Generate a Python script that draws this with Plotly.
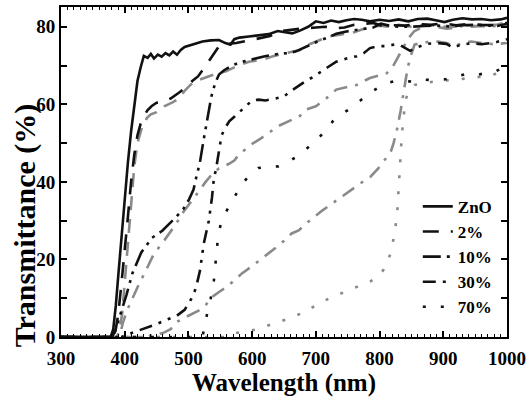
import plotly.graph_objects as go

# ---- data ----
zno_x = [300, 378, 382, 386, 390, 395, 400, 405, 410, 415, 420, 425, 430, 436, 441, 446, 452, 458, 464, 470, 476, 482, 488, 494, 502, 512, 522, 535, 548, 558, 566, 572, 580, 595, 610, 626, 640, 652, 663, 675, 688, 700, 712, 724, 736, 748, 760, 772, 785, 800, 815, 830, 845, 860, 875, 890, 902, 915, 930, 945, 960, 975, 990, 1000]
zno_y = [0, 0, 2, 8, 16, 26, 36, 45, 53, 60, 66, 69.5, 72.5, 72, 73, 71.8, 72.8, 72.3, 73.2, 72.6, 73.6, 72.8, 74, 74.8, 75.2, 75.6, 76.2, 76.5, 76.6, 75.8, 75.4, 76.8, 77.2, 77.5, 77.8, 78.1, 78.9, 78.6, 78.3, 79, 80, 81.4, 81, 81.6, 81.2, 81.7, 82, 81.8, 81.4, 81.8, 81.5, 81.9, 81.4, 82, 82.1, 81.6, 81.2, 81.8, 82.2, 81.9, 82, 81.7, 81.9, 82.3]

p2_x = [300, 382, 386, 390, 395, 400, 405, 410, 415, 420, 425, 430, 436, 442, 450, 460, 472, 485, 497, 506, 515, 523, 531, 540, 548, 556, 565, 575, 590, 610, 628, 642, 660, 680, 700, 715, 730, 745, 760, 775, 790, 805, 820, 840, 860, 880, 900, 920, 940, 960, 980, 1000]
p2_y = [0, 0, 2, 6, 14, 22, 31, 40, 47, 52, 55, 57, 58.5, 59.5, 60.4, 60.6, 61.5, 63, 64.5, 66, 67.2, 69, 71, 73, 75, 75.5, 75.6, 75.8, 76.3, 77, 77.6, 78.8, 79.2, 79.6, 79.8, 80, 79.6, 79.8, 80.5, 80.8, 81, 80.2, 80.4, 80.3, 80.7, 80.5, 80.9, 80.4, 80.7, 80.5, 80.4, 81]

p10_x = [300, 380, 385, 392, 403, 412, 426, 443, 459, 478, 492, 501, 508, 512, 518, 524, 530, 536, 542, 548, 556, 566, 580, 600, 620, 640, 655, 668, 680, 692, 705, 718, 732, 748, 764, 778, 790, 802, 815, 830, 850, 870, 891, 910, 930, 950, 970, 985, 1000]
p10_y = [0, 0, 1.5, 5, 11, 16.4, 21.8, 25.6, 27.4, 30.5, 33, 35.5, 38, 41, 45, 51, 57, 62, 65.5, 67.7, 68.8, 69.8, 70.8, 71.6, 72.4, 73, 73.2, 73.6, 74.5, 75.5, 76.4, 77.2, 78.2, 78.8, 79.2, 79.5, 79.8, 80.8, 80.3, 80, 80, 80.2, 80.3, 80.1, 80.4, 80.5, 80.3, 80.2, 80.8]

p30_x = [300, 395, 410, 428, 445, 465, 482, 494, 501, 507, 512, 518, 524, 528, 532, 537, 540, 543, 548, 552, 558, 564, 572, 580, 590, 600, 610, 621, 637, 650, 657, 670, 684, 695, 705, 718, 732, 748, 764, 775, 785, 798, 811, 825, 832, 840, 848, 860, 875, 891, 905, 915, 925, 944, 960, 980, 1000]
p30_y = [0, 0, 1, 2, 3, 4.4, 5.5, 7, 8.7, 10.5, 12.8, 17, 24, 27.5, 30, 36, 41, 43, 47.5, 52, 54, 55.6, 56.8, 58, 59.5, 61, 61.2, 61, 61.5, 62, 63, 64.5, 66, 67, 68, 69.5, 71, 71.8, 72.4, 73.2, 74.5, 75, 75, 75.5, 75.3, 74.5, 73.8, 74.8, 75.6, 75.8, 75.6, 74.6, 75.2, 75.8, 75.5, 75.9, 76.8]

p70_x = [300, 522, 528, 535, 540, 543, 546, 551, 558, 565, 575, 584, 595, 610, 625, 641, 655, 669, 685, 700, 714, 727, 740, 755, 770, 785, 800, 812, 825, 839, 855, 869, 885, 901, 918, 933, 950, 965, 980, 1000]
p70_y = [0, 0, 5, 10, 14.6, 19.7, 25, 29.5, 32, 34, 37, 39.5, 41.5, 43.6, 43.8, 44, 45, 46.4, 48.5, 50.6, 53, 55.7, 57.5, 59, 61, 63, 64.5, 65.5, 66, 66, 65.8, 66.4, 66.2, 66.4, 67, 67.7, 67.5, 68, 68.3, 70]

# grey curves (second set of samples)
g2_x = [300, 388, 392, 396, 400, 405, 410, 415, 420, 427, 435, 441, 450, 462, 475, 485, 494, 503, 512, 527, 545, 559, 575, 595, 616, 635, 655, 675, 690, 705, 720, 740, 760, 785, 800, 815, 830, 850, 870, 890, 910, 930, 950, 970, 985, 1000]
g2_y = [0, 0, 2, 6, 14, 24, 35, 44, 50, 54, 56.5, 57.4, 58, 59.5, 60.5, 61.5, 63.5, 65, 66, 67, 68, 68.5, 69.8, 71, 71.5, 72.5, 73.2, 74, 75.5, 76.5, 77.5, 78, 78.6, 80, 80.3, 80, 80.5, 80, 80.5, 80.3, 79.8, 80.5, 80.2, 80.4, 80.6, 81.2]

g10_x = [300, 390, 394, 397, 404, 412, 422, 431, 446, 458, 470, 480, 490, 503, 517, 527, 537, 548, 563, 572, 579, 590, 599, 612, 626, 641, 662, 675, 685, 700, 716, 732, 750, 764, 775, 785, 800, 811, 820, 828, 836, 845, 854, 868, 880, 891, 905, 917, 930, 944, 960, 970, 985, 1000]
g10_y = [0, 0, 1.5, 3.6, 7, 10, 13.5, 16.4, 21.5, 24, 26.7, 29, 31.8, 34.5, 37.7, 40, 42, 43.5, 44.6, 45.5, 47, 48.5, 49.7, 51, 52.6, 54.4, 56, 57, 58.7, 59.5, 61.5, 63.8, 64.5, 65, 66, 66.8, 67.5, 68, 69.5, 72, 74.5, 77, 78.8, 80, 80.3, 80, 79.5, 79.7, 80.2, 80, 80.2, 80, 80.3, 80.5]

g30_x = [300, 430, 445, 460, 472, 481, 494, 506, 516, 527, 537, 548, 559, 572, 584, 600, 615, 627, 637, 650, 662, 673, 690, 710, 722, 732, 748, 764, 775, 785, 798, 811, 818, 822, 828, 833, 839, 844, 850, 855, 870, 891, 905, 917, 930, 944, 960, 980, 1000]
g30_y = [0, 0, 0.5, 1, 2, 3.8, 5, 6, 6.8, 8.2, 10.3, 11.6, 12.8, 14.6, 16.4, 18.3, 20.2, 21.6, 23, 24.8, 26.7, 27.5, 30, 32.6, 34, 35.2, 37.2, 39, 40.2, 41.2, 43.5, 46.3, 48, 50, 54, 58.3, 64, 69.4, 73, 75.4, 76, 76.2, 75.8, 75, 75.8, 76.2, 75.8, 75.5, 75.8]

g70_x = [300, 560, 573, 590, 605, 620, 637, 655, 679, 695, 710, 730, 753, 770, 785, 798, 806, 812, 817, 821, 825, 828, 830, 833, 835, 838, 840, 846, 855, 870, 891, 915, 944, 970, 996, 1000]
g70_y = [0, 0, 1, 1.5, 1.9, 2.7, 3.6, 4.6, 6.2, 7.6, 9.1, 10.6, 12.1, 13.2, 14.3, 15.6, 17.3, 19, 21.5, 24.5, 28.4, 33, 39.5, 46, 52.3, 57, 60.9, 63.4, 65, 65.5, 66, 66.3, 66.8, 67.3, 68.5, 68.6]

legend_names = ["ZnO", "2%", "10%", "30%", "70%"]
x_ticks = [300, 400, 500, 600, 700, 800, 900, 1000]
y_ticks = [0, 20, 40, 60, 80]

BLACK = "#111111"
GREY = "#8a8a8a"
W = 2.6
FONT = "Liberation Serif"

fig = go.Figure()

grey_sets = [
    (g2_x, g2_y, "14px,9px"),
    (g10_x, g10_y, "14px,8px,3px,8px"),
    (g30_x, g30_y, "14px,8px,3px,8px"),
    (g70_x, g70_y, "3px,13px"),
]
for gx, gy, dash in grey_sets:
    fig.add_trace(go.Scatter(x=gx, y=gy, mode="lines", showlegend=False,
                             line=dict(color=GREY, width=W, dash=dash)))

black_sets = [
    (zno_x, zno_y, "solid"),
    (p2_x, p2_y, "16px,12px"),
    (p10_x, p10_y, "18px,6px,3px,6px,3px,6px"),
    (p30_x, p30_y, "13px,7px,3px,7px,3px,7px"),
    (p70_x, p70_y, "3px,15px"),
]
for (bx, by, dash), name in zip(black_sets, legend_names):
    fig.add_trace(go.Scatter(x=bx, y=by, mode="lines", name=name,
                             line=dict(color=BLACK, width=W, dash=dash)))

axis_common = dict(
    showline=True, linecolor="black", linewidth=2, mirror="allticks",
    ticks="inside", ticklen=6, tickwidth=1.5, tickcolor="black",
    showgrid=False, zeroline=False,
    tickfont=dict(family=FONT, size=19, color="black", weight="bold"),
)

fig.update_xaxes(range=[300, 1000], tickvals=x_ticks, ticktext=[str(v) for v in x_ticks],
                 ticklabelstandoff=3,
                 minor=dict(dtick=10, ticks="inside", ticklen=3, tickwidth=1, tickcolor="black"),
                 title=dict(text="<b>Wavelength (nm)</b>", font=dict(family=FONT, size=25, color="black"), standoff=6),
                 **axis_common)
fig.update_yaxes(range=[0, 85.1], tickvals=y_ticks, ticktext=[str(v) for v in y_ticks],
                 minor=dict(dtick=10, ticks="inside", ticklen=6, tickwidth=1.5, tickcolor="black"),
                 **axis_common)

fig.add_annotation(text="<b>Transmittance (%)</b>", xref="paper", yref="paper",
                   x=-0.082, y=0.34, xanchor="center", yanchor="middle", textangle=-90,
                   showarrow=False, font=dict(family=FONT, size=30, color="black"))

fig.update_layout(
    width=531, height=404,
    margin=dict(l=61, r=21, t=5, b=67),
    paper_bgcolor="white", plot_bgcolor="white",
    legend=dict(x=0.80, y=0.449, xanchor="left", yanchor="top",
                bgcolor="rgba(0,0,0,0)", borderwidth=0,
                font=dict(family=FONT, size=17, color="black", weight="bold"),
                tracegroupgap=0),
)

fig.write_html("out.html")
